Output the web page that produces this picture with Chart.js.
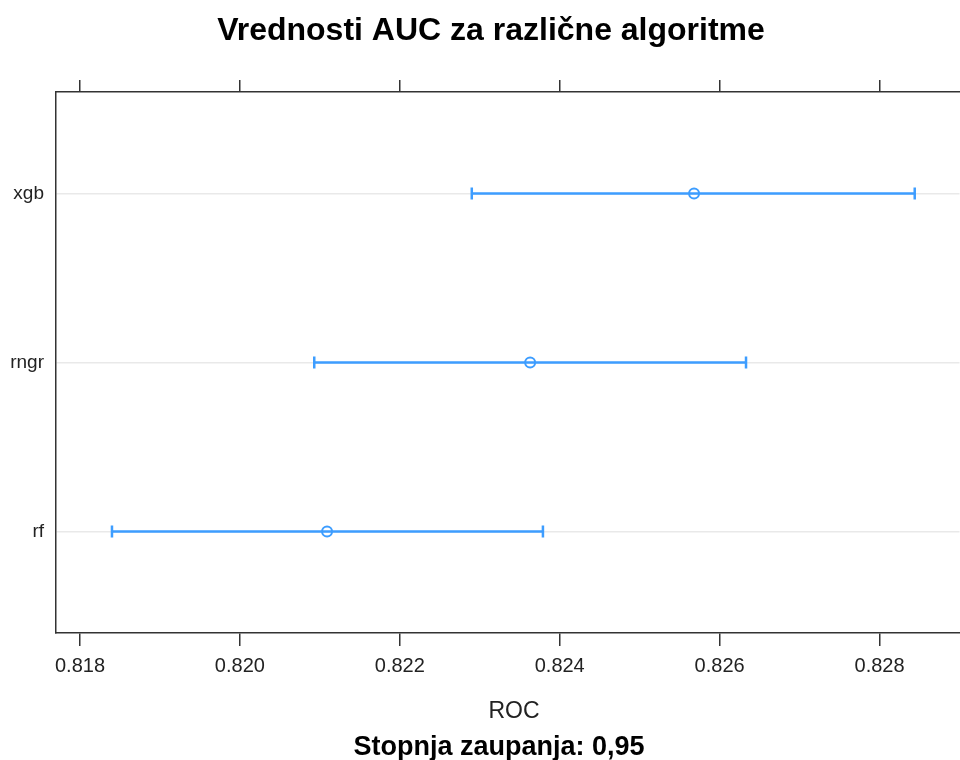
<!DOCTYPE html>
<html>
<head>
<meta charset="utf-8">
<script src="https://cdn.jsdelivr.net/npm/chart.js@4/dist/chart.umd.min.js"></script>
<style>
  html, body { margin: 0; padding: 0; background: #ffffff; overflow: hidden; }
  #wrap { width: 960px; height: 760px; position: relative; overflow: hidden; }
</style>
</head>
<body>
<div id="wrap"><canvas id="c" width="968" height="760"></canvas></div>
<script>
// ---- data ----
const algorithms = ['rf', 'rngr', 'xgb'];
const lowerCI = [0.81840, 0.82093, 0.82290];
const meanAUC = [0.82109, 0.82363, 0.82568];
const upperCI = [0.82379, 0.82633, 0.82844];
const xTicks = [0.818, 0.820, 0.822, 0.824, 0.826, 0.828];
const xTickLabels = ['0.818', '0.820', '0.822', '0.824', '0.826', '0.828'];
const titleText = 'Vrednosti AUC za različne algoritme';
const xAxisTitle = 'ROC';
const footerText = 'Stopnja zaupanja: 0,95';

const blue = '#3d9dff';
const frame = '#333333';

const datasets = algorithms.map((a, i) => ({
  type: 'line',
  label: a,
  data: [{x: lowerCI[i], y: i + 1}, {x: upperCI[i], y: i + 1}],
  borderColor: blue,
  backgroundColor: blue,
  borderWidth: 2.5,
  pointStyle: 'line',
  pointRotation: 90,
  pointRadius: 6,
  pointBorderWidth: 2.5,
  pointBorderColor: blue,
  xAxisID: 'x',
  yAxisID: 'y'
}));
datasets.push({
  type: 'scatter',
  label: 'mean',
  data: algorithms.map((a, i) => ({x: meanAUC[i], y: i + 1})),
  pointStyle: 'circle',
  pointRadius: 5,
  pointBorderWidth: 2,
  pointBorderColor: blue,
  pointBackgroundColor: 'rgba(255,255,255,0)',
  showLine: false,
  xAxisID: 'x',
  yAxisID: 'y'
});

const textPlugin = {
  id: 'texts',
  afterDraw(chart) {
    const ctx = chart.ctx;
    ctx.save();
    ctx.textAlign = 'center';
    ctx.textBaseline = 'alphabetic';
    ctx.fillStyle = '#000000';
    ctx.font = 'bold 32px "Liberation Sans Narrow", "Liberation Sans", Arial, sans-serif';
    ctx.fillText(titleText, 491, 40);
    ctx.fillStyle = '#222222';
    ctx.font = '23px "Liberation Sans", Arial, sans-serif';
    ctx.fillText(xAxisTitle, 514, 718);
    ctx.fillStyle = '#000000';
    ctx.font = 'bold 27px "Liberation Sans Narrow", "Liberation Sans", Arial, sans-serif';
    ctx.fillText(footerText, 499, 755);
    ctx.restore();
  }
};

const setTicks = (vals) => (scale) => { scale.ticks = vals.map(v => ({value: v})); };

new Chart(document.getElementById('c'), {
  data: { datasets },
  options: {
    responsive: false,
    animation: false,
    layout: { padding: 0 },
    plugins: { legend: { display: false }, tooltip: { enabled: false }, title: { display: false } },
    scales: {
      x: {
        type: 'linear', position: 'bottom',
        min: 0.8177, max: 0.829,
        afterBuildTicks: setTicks(xTicks),
        afterFit: (s) => { s.height = 127; },
        grid: { drawOnChartArea: false, drawTicks: true, tickLength: 13, color: frame, lineWidth: 1.5 },
        border: { display: true, color: frame, width: 1.5 },
        ticks: {
          padding: 8, color: '#222222', maxRotation: 0, autoSkip: false,
          font: { family: '"Liberation Sans", Arial, sans-serif', size: 20 },
          callback: (v) => { const k = xTicks.findIndex(t => Math.abs(t - v) < 1e-9); return k >= 0 ? xTickLabels[k] : ''; }
        }
      },
      x2: {
        type: 'linear', position: 'top',
        min: 0.8177, max: 0.829,
        afterBuildTicks: setTicks(xTicks),
        afterFit: (s) => { s.height = 92; },
        grid: { drawOnChartArea: false, drawTicks: true, tickLength: 12, color: frame, lineWidth: 1.5 },
        border: { display: true, color: frame, width: 1.5 },
        ticks: { display: false }
      },
      y: {
        type: 'linear', position: 'left',
        min: 0.4, max: 3.6,
        afterBuildTicks: setTicks([1, 2, 3]),
        afterFit: (s) => { s.width = 56; },
        grid: { drawOnChartArea: true, drawTicks: false, color: '#e9e9e9', lineWidth: 1.5 },
        border: { display: true, color: frame, width: 1.5 },
        ticks: {
          padding: 12, color: '#222222', autoSkip: false,
          font: { family: '"Liberation Sans", Arial, sans-serif', size: 19 },
          callback: (v) => { const k = Math.round(v) - 1; return algorithms[k] || ''; }
        }
      }
    }
  },
  plugins: [textPlugin]
});
</script>
</body>
</html>
